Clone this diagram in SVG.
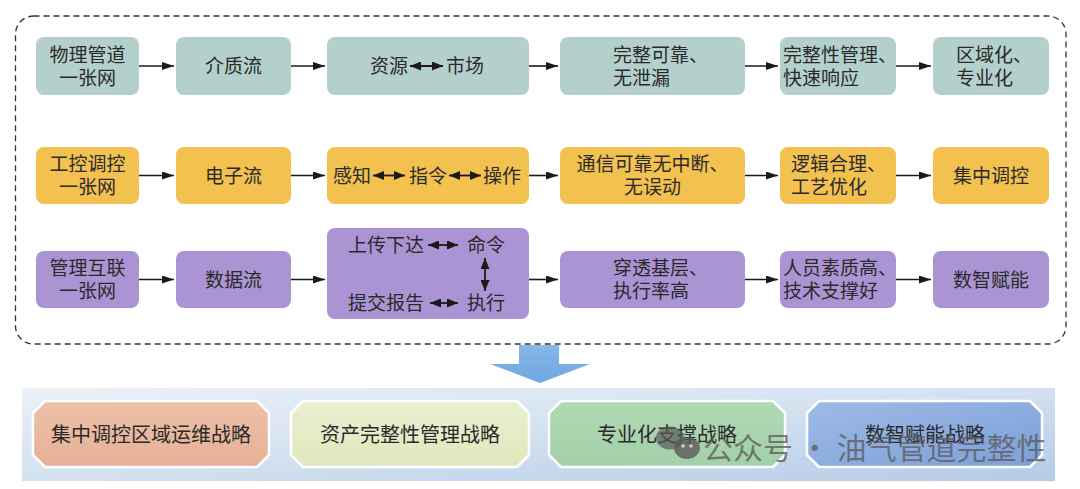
<svg xmlns="http://www.w3.org/2000/svg" width="1080" height="489" viewBox="0 0 1080 489">
  <style>
    .t { font-family: "Liberation Serif", "Noto Sans CJK SC", serif; font-size: 19px; fill: #2a2a2a; }
    .c { text-anchor: middle; }
    .b { font-family: "Liberation Serif", "Noto Sans CJK SC", serif; font-size: 20px; fill: #2a2a2a; text-anchor: middle; }
    .teal { fill: #b4d0cc; }
    .yel { fill: #f2c150; }
    .pur { fill: #aa94d3; }
    .conn { stroke: #1a1a1a; stroke-width: 1.6; fill: none; }
    .inner { stroke: #1a1a1a; stroke-width: 1.8; fill: none; }
    .oct { stroke: #ffffff; stroke-width: 2.5; }
    .wm { font-family: "Noto Sans CJK SC", sans-serif; font-size: 30px; fill: #5a5a5a; fill-opacity: 0.75; }
  </style>
  <defs>
    <marker id="ah" viewBox="0 0 12 8" refX="12" refY="4" markerWidth="12" markerHeight="8" markerUnits="userSpaceOnUse" orient="auto">
      <path d="M0,0 L12,4 L0,8 Z" fill="#1a1a1a"/>
    </marker>
    <marker id="sh" viewBox="0 0 11 9" refX="11" refY="4.5" markerWidth="11" markerHeight="9" markerUnits="userSpaceOnUse" orient="auto-start-reverse">
      <path d="M0,0 L11,4.5 L0,9 Z" fill="#1a1a1a"/>
    </marker>
    <linearGradient id="panelG" x1="0" y1="0" x2="1" y2="1">
      <stop offset="0" stop-color="#eaf1f8"/>
      <stop offset="0.5" stop-color="#d3e1f0"/>
      <stop offset="1" stop-color="#b4cbe6"/>
    </linearGradient>
    <linearGradient id="arrowG" x1="0" y1="0" x2="0" y2="1">
      <stop offset="0" stop-color="#86b8e8"/>
      <stop offset="1" stop-color="#6fa6e0"/>
    </linearGradient>
    <linearGradient id="gA" x1="0" y1="0" x2="0" y2="1">
      <stop offset="0" stop-color="#edc0a8"/>
      <stop offset="1" stop-color="#e5b196"/>
    </linearGradient>
    <linearGradient id="gB" x1="0" y1="0" x2="0" y2="1">
      <stop offset="0" stop-color="#eaefcf"/>
      <stop offset="1" stop-color="#e0e8bd"/>
    </linearGradient>
    <linearGradient id="gC" x1="0" y1="0" x2="0" y2="1">
      <stop offset="0" stop-color="#b0d9b4"/>
      <stop offset="1" stop-color="#a2d0a8"/>
    </linearGradient>
    <linearGradient id="gD" x1="0" y1="0" x2="1" y2="1">
      <stop offset="0" stop-color="#9dbbe6"/>
      <stop offset="1" stop-color="#7d9fd8"/>
    </linearGradient>
  </defs>

  <rect x="0" y="0" width="1080" height="489" fill="#ffffff"/>

  <!-- dashed container -->
  <rect id="container" x="15.5" y="16" width="1050.5" height="328" rx="18" fill="none" stroke="#333" stroke-width="1.3" stroke-dasharray="6 4"/>

  <!-- Row 1 -->
  <g id="r1c1"><rect class="teal" x="36" y="37" width="103" height="58" rx="8"/>
    <text class="t c" x="87.5" y="61.5">物理管道</text><text class="t c" x="87.5" y="84.5">一张网</text></g>
  <g id="r1c2"><rect class="teal" x="176" y="37" width="115" height="58" rx="8"/>
    <text class="t c" x="233.5" y="73">介质流</text></g>
  <g id="r1c3"><rect class="teal" x="327" y="37" width="202" height="58" rx="8"/>
    <text class="t" x="370" y="73">资源</text><text class="t" x="446" y="73">市场</text>
    <line class="inner" x1="410" y1="66" x2="443" y2="66" marker-start="url(#sh)" marker-end="url(#sh)"/></g>
  <g id="r1c4"><rect class="teal" x="560" y="37" width="185" height="58" rx="8"/>
    <text class="t" x="613" y="61.5">完整可靠、</text><text class="t" x="613" y="84.5">无泄漏</text></g>
  <g id="r1c5"><rect class="teal" x="780" y="37" width="116" height="58" rx="8"/>
    <text class="t" x="783" y="61.5">完整性管理、</text><text class="t" x="783" y="84.5">快速响应</text></g>
  <g id="r1c6"><rect class="teal" x="933" y="37" width="116" height="58" rx="8"/>
    <text class="t" x="956" y="61.5">区域化、</text><text class="t" x="956" y="84.5">专业化</text></g>

  <!-- Row 2 -->
  <g id="r2c1"><rect class="yel" x="36" y="147" width="103" height="57" rx="8"/>
    <text class="t c" x="87.5" y="171">工控调控</text><text class="t c" x="87.5" y="194">一张网</text></g>
  <g id="r2c2"><rect class="yel" x="176" y="147" width="115" height="57" rx="8"/>
    <text class="t c" x="233.5" y="182.5">电子流</text></g>
  <g id="r2c3"><rect class="yel" x="327" y="147" width="202" height="57" rx="8"/>
    <text class="t" x="333" y="182.5">感知</text><text class="t" x="409" y="182.5">指令</text><text class="t" x="483" y="182.5">操作</text>
    <line class="inner" x1="373" y1="175.5" x2="405" y2="175.5" marker-start="url(#sh)" marker-end="url(#sh)"/>
    <line class="inner" x1="449" y1="175.5" x2="481" y2="175.5" marker-start="url(#sh)" marker-end="url(#sh)"/></g>
  <g id="r2c4"><rect class="yel" x="560" y="147" width="185" height="57" rx="8"/>
    <text class="t c" x="652.5" y="171">通信可靠无中断、</text><text class="t c" x="652.5" y="194">无误动</text></g>
  <g id="r2c5"><rect class="yel" x="780" y="147" width="116" height="57" rx="8"/>
    <text class="t" x="791" y="171">逻辑合理、</text><text class="t" x="791" y="194">工艺优化</text></g>
  <g id="r2c6"><rect class="yel" x="933" y="147" width="116" height="57" rx="8"/>
    <text class="t c" x="991" y="182.5">集中调控</text></g>

  <!-- Row 3 -->
  <g id="r3c1"><rect class="pur" x="36" y="251" width="103" height="57" rx="8"/>
    <text class="t c" x="87.5" y="275">管理互联</text><text class="t c" x="87.5" y="298">一张网</text></g>
  <g id="r3c2"><rect class="pur" x="176" y="251" width="115" height="57" rx="8"/>
    <text class="t c" x="233.5" y="286.5">数据流</text></g>
  <g id="r3c3"><rect class="pur" x="327" y="228" width="202" height="91" rx="8"/>
    <text class="t" x="348" y="252">上传下达</text><text class="t" x="467" y="252">命令</text>
    <text class="t" x="348" y="310">提交报告</text><text class="t" x="467" y="310">执行</text>
    <line class="inner" x1="428" y1="245" x2="458" y2="245" marker-start="url(#sh)" marker-end="url(#sh)"/>
    <line class="inner" x1="430" y1="303" x2="458" y2="303" marker-start="url(#sh)" marker-end="url(#sh)"/>
    <line class="inner" x1="485" y1="258" x2="485" y2="291" marker-start="url(#sh)" marker-end="url(#sh)"/></g>
  <g id="r3c4"><rect class="pur" x="560" y="251" width="185" height="57" rx="8"/>
    <text class="t" x="613" y="275">穿透基层、</text><text class="t" x="613" y="298">执行率高</text></g>
  <g id="r3c5"><rect class="pur" x="780" y="251" width="116" height="57" rx="8"/>
    <text class="t" x="783" y="275">人员素质高、</text><text class="t" x="783" y="298">技术支撑好</text></g>
  <g id="r3c6"><rect class="pur" x="933" y="251" width="116" height="57" rx="8"/>
    <text class="t c" x="991" y="286.5">数智赋能</text></g>

  <!-- connectors -->
  <g id="connectors">
    <line class="conn" x1="139" y1="66" x2="174" y2="66" marker-end="url(#ah)"/>
    <line class="conn" x1="291" y1="66" x2="325" y2="66" marker-end="url(#ah)"/>
    <line class="conn" x1="529" y1="66" x2="558" y2="66" marker-end="url(#ah)"/>
    <line class="conn" x1="745" y1="66" x2="778" y2="66" marker-end="url(#ah)"/>
    <line class="conn" x1="896" y1="66" x2="931" y2="66" marker-end="url(#ah)"/>

    <line class="conn" x1="139" y1="175.5" x2="174" y2="175.5" marker-end="url(#ah)"/>
    <line class="conn" x1="291" y1="175.5" x2="325" y2="175.5" marker-end="url(#ah)"/>
    <line class="conn" x1="529" y1="175.5" x2="558" y2="175.5" marker-end="url(#ah)"/>
    <line class="conn" x1="745" y1="175.5" x2="778" y2="175.5" marker-end="url(#ah)"/>
    <line class="conn" x1="896" y1="175.5" x2="931" y2="175.5" marker-end="url(#ah)"/>

    <line class="conn" x1="139" y1="279.5" x2="174" y2="279.5" marker-end="url(#ah)"/>
    <line class="conn" x1="291" y1="279.5" x2="325" y2="279.5" marker-end="url(#ah)"/>
    <line class="conn" x1="529" y1="279.5" x2="558" y2="279.5" marker-end="url(#ah)"/>
    <line class="conn" x1="745" y1="279.5" x2="778" y2="279.5" marker-end="url(#ah)"/>
    <line class="conn" x1="896" y1="279.5" x2="931" y2="279.5" marker-end="url(#ah)"/>
  </g>

  <!-- big down arrow -->
  <g id="down-arrow">
    <path d="M519,345 L559,345 L559,364 L590,364 L540,383 L490,364 L519,364 Z" fill="url(#arrowG)"/>
  </g>

  <!-- bottom panel -->
  <g id="strategy-panel">
    <rect x="22" y="388" width="1033" height="93" fill="url(#panelG)"/>
  </g>
  <g id="s1">
    <polygon class="oct" fill="url(#gA)" points="45,401 257,401 269,413 269,455 257,467 45,467 33,455 33,413"/>
    <text class="b" x="151" y="441.5">集中调控区域运维战略</text>
  </g>
  <g id="s2">
    <polygon class="oct" fill="url(#gB)" points="303,401 517,401 529,413 529,455 517,467 303,467 291,455 291,413"/>
    <text class="b" x="410" y="441.5">资产完整性管理战略</text>
  </g>
  <g id="s3">
    <polygon class="oct" fill="url(#gC)" points="561,401 773,401 785,413 785,455 773,467 561,467 549,455 549,413"/>
    <text class="b" x="667" y="441.5">专业化支撑战略</text>
  </g>
  <g id="s4">
    <polygon class="oct" fill="url(#gD)" points="819,401 1030,401 1042,413 1042,455 1030,467 819,467 807,455 807,413"/>
    <text class="b" x="925" y="441.5">数智赋能战略</text>
  </g>

  <!-- watermark -->
  <g id="watermark">
    <ellipse cx="670" cy="438" rx="14" ry="11.5" fill="#5a5a5a" fill-opacity="0.7"/>
    <ellipse cx="687" cy="448" rx="13" ry="11" fill="#5a5a5a" fill-opacity="0.8"/>
    <circle cx="683" cy="446" r="1.8" fill="#cfcfcf"/>
    <circle cx="691" cy="446" r="1.8" fill="#cfcfcf"/>
    <text class="wm" x="703" y="459">公众号 · 油气管道完整性</text>
  </g>
</svg>
